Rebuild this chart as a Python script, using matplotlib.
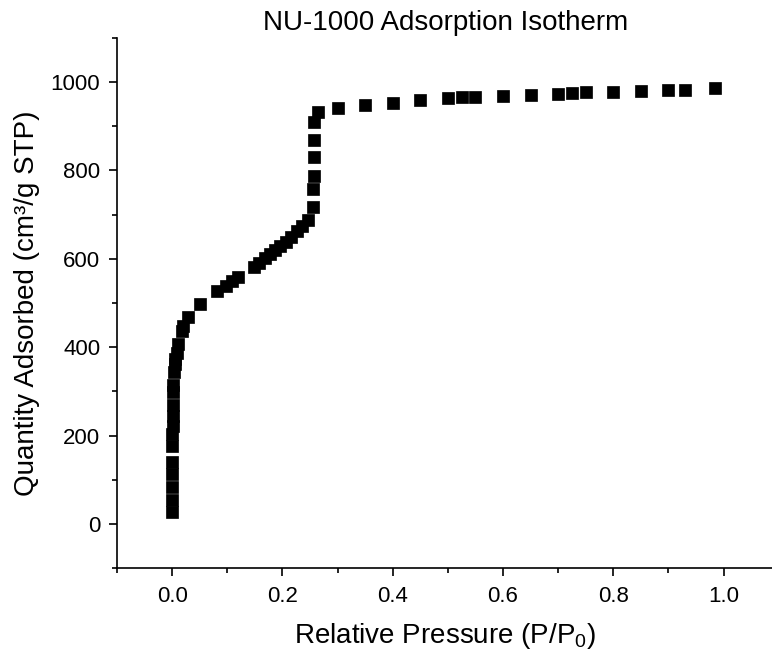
import matplotlib.pyplot as plt
from matplotlib.ticker import MultipleLocator

plt.rcParams['font.family'] = ['Liberation Sans', 'DejaVu Sans']
plt.rcParams['mathtext.default'] = 'regular'

# relative pressure P/P0
p_rel = [0.000, 0.000, 0.000, 0.000, 0.000, 0.000, 0.0005, 0.001, 0.001, 0.001,
         0.0015, 0.002, 0.003, 0.005, 0.006, 0.008, 0.011, 0.017, 0.020, 0.029,
         0.050, 0.082, 0.097, 0.109, 0.120, 0.148, 0.158, 0.168, 0.177, 0.187,
         0.196, 0.207, 0.216, 0.227, 0.236, 0.246, 0.256, 0.256, 0.257, 0.257,
         0.257, 0.257, 0.265, 0.30, 0.35, 0.40, 0.45, 0.50, 0.525, 0.55,
         0.60, 0.65, 0.70, 0.725, 0.75, 0.80, 0.85, 0.90, 0.93, 0.985]
# quantity adsorbed (cm3/g STP)
q_ads = [26, 54, 84, 113, 141, 176, 204, 222, 245, 269,
         299, 314, 345, 362, 373, 388, 407, 437, 449, 469,
         497, 528, 539, 549, 559, 582, 591, 601, 610, 620,
         630, 639, 650, 663, 675, 688, 718, 758, 788, 831,
         869, 910, 933, 942, 948, 952, 959, 963, 966, 967,
         969, 970, 973, 975, 978, 978, 980, 982, 982, 987]

fig = plt.figure(figsize=(7.72, 6.58), dpi=100)
ax = fig.add_axes([0.1516, 0.1365, 0.850, 0.806])

ax.plot(p_rel, q_ads, linestyle='none', marker='s', ms=8, mew=0.5,
        color='black')

ax.set_xlim(-0.1, 1.09)
ax.set_ylim(-100, 1100)
ax.xaxis.set_major_locator(MultipleLocator(0.2))
ax.xaxis.set_minor_locator(MultipleLocator(0.1))
ax.yaxis.set_major_locator(MultipleLocator(200))
ax.yaxis.set_minor_locator(MultipleLocator(100))
ax.xaxis.set_major_formatter(lambda v, pos: f'{v:.1f}')

for s in ['top', 'right']:
    ax.spines[s].set_visible(False)
for s in ['left', 'bottom']:
    ax.spines[s].set_linewidth(1.2)
ax.tick_params(which='major', direction='out', length=6, width=1.2,
               labelsize=16)
ax.tick_params(axis='y', which='major', pad=6)
ax.tick_params(axis='x', which='major', pad=7)
ax.tick_params(which='minor', direction='out', length=3.5, width=1.2)

ax.set_xlabel('Relative Pressure (P/P$_0$)', fontsize=20, labelpad=10)
ax.set_ylabel('Quantity Adsorbed (cm³/g STP)', fontsize=20, labelpad=8)
ax.set_title('NU-1000 Adsorption Isotherm', fontsize=20, pad=6)

fig.savefig('out.png', dpi=100)
